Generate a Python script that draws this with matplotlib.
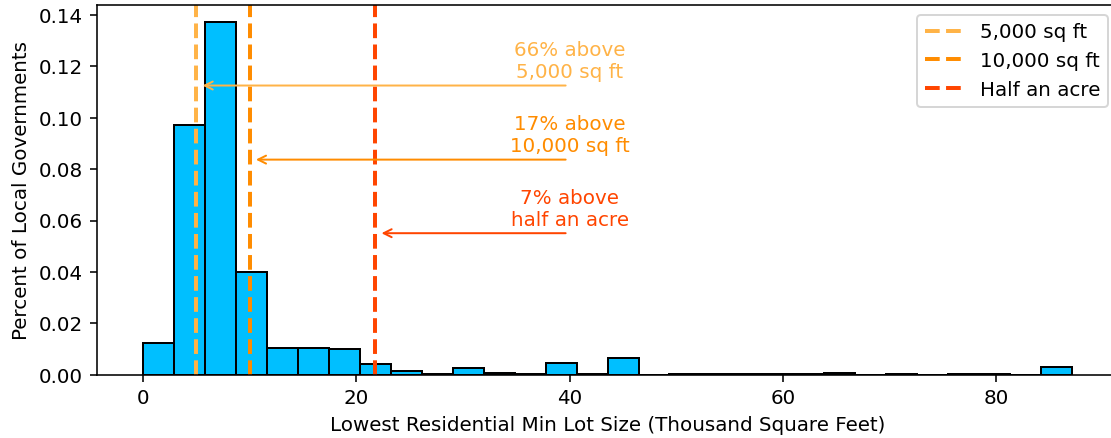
import numpy as np
import matplotlib
matplotlib.use('Agg')
import matplotlib.pyplot as plt

plt.rcParams['savefig.bbox'] = 'standard'

# Histogram: 30 equal bins from 0 to 87.12 (two acres), density values
bin_max = 87.12
n_bins = 30
density = [0.0123, 0.0970, 0.1371, 0.0400, 0.0104, 0.0104, 0.0100, 0.0042, 0.0016, 0.0003,
           0.0026, 0.0009, 0.0004, 0.0048, 0.0002, 0.0065, 0.0000, 0.0005, 0.0002, 0.0002,
           0.0005, 0.0002, 0.0008, 0.0000, 0.0002, 0.0000, 0.0002, 0.0005, 0.0000, 0.0031]

# Reference lines (thousand sq ft)
line_values = [5.0, 10.0, 21.78]
line_labels = ['5,000 sq ft', '10,000 sq ft', 'Half an acre']
line_colors = ['#FFB347', '#FF8C00', '#FF4500']

# Annotations
note_texts = ['66% above\n5,000 sq ft', '17% above\n10,000 sq ft', '7% above\nhalf an acre']
note_y = [0.1125, 0.0837, 0.0551]
note_x = 40

edges = np.linspace(0, bin_max, n_bins + 1)
centers = (edges[:-1] + edges[1:]) / 2

dpi = 143
fig = plt.figure(figsize=(1111.4 / dpi, 438.4 / dpi), dpi=dpi)
# right edge of the axes runs just past the picture, as in the cropped original
ax = fig.add_axes([96.7 / 1111, 1 - 375 / 438, (1118 - 96.7) / 1111, (375 - 5) / 438])

ax.hist(centers, bins=edges, weights=density, color='#00BFFF', edgecolor='black')

for v, lab, c in zip(line_values, line_labels, line_colors):
    ax.axvline(v, color=c, linestyle='--', linewidth=2, label=lab)

for v, txt, y, c in zip(line_values, note_texts, note_y, line_colors):
    ax.annotate('', xy=(v + 0.2, y), xytext=(note_x, y),
                arrowprops=dict(arrowstyle='->', color=c, lw=1))
    ax.text(note_x, y + 0.0015, txt, color=c, ha='center', va='bottom')

ax.set_xlabel('Lowest Residential Min Lot Size (Thousand Square Feet)')
ax.set_ylabel('Percent of Local Governments')
ax.legend(loc='upper right')

fig.savefig('out.png', dpi=dpi)
